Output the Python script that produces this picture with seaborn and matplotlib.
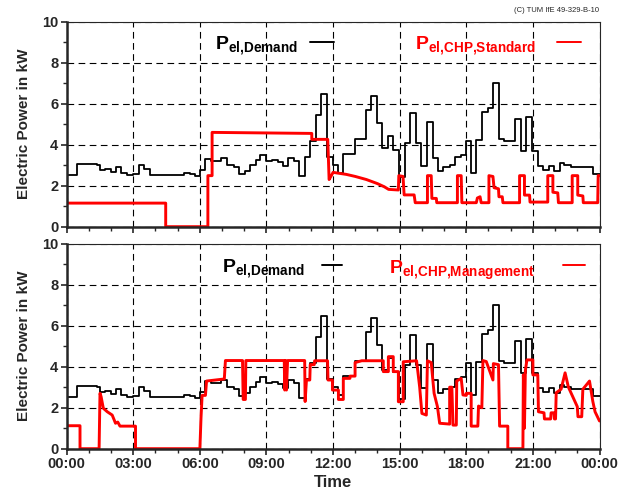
"""Electric power demand vs. CHP output, standard and managed operation."""

import matplotlib
matplotlib.use("Agg")
import matplotlib.pyplot as plt
from matplotlib.ticker import MultipleLocator, FuncFormatter
import pandas as pd
import seaborn as sns

# demand profile (step function, value holds from each start hour)
demand_t = [0, 0.48, 1.38, 1.5, 1.71, 1.98, 2.2, 2.43, 2.7, 3.0,
            3.25, 3.48, 3.75, 5.28, 5.55, 5.76, 6.0, 6.25, 6.48, 6.93,
            7.23, 7.53, 7.75, 8.04, 8.26, 8.52, 8.71, 8.97, 9.24, 9.51,
            9.76, 9.99, 10.26, 10.48, 10.74, 10.97, 11.22, 11.46, 11.73, 12.0,
            12.22, 12.45, 12.97, 13.47, 13.7, 13.97, 14.22, 14.47, 14.7, 14.97,
            15.22, 15.45, 15.72, 15.97, 16.23, 16.5, 16.72, 16.95, 17.25, 17.47,
            17.77, 18.0, 18.22, 18.45, 18.72, 18.97, 19.2, 19.47, 19.72, 20.2,
            20.45, 20.7, 20.97, 21.22, 21.45, 21.72, 21.97, 22.2, 22.42, 22.72,
            23.7, 24.0]
demand_kw = [2.54, 3.06, 3.0, 2.76, 2.83, 2.65, 2.9, 2.63, 2.52, 2.57,
             3.0, 2.8, 2.5, 2.63, 2.57, 2.49, 2.76, 3.3, 3.22, 3.35,
             3.0, 2.93, 2.55, 2.73, 3.0, 3.24, 3.51, 3.2, 3.25, 3.17,
             2.98, 3.33, 3.19, 2.47, 3.38, 4.2, 5.46, 6.47, 3.38, 3.0,
             2.6, 3.54, 4.3, 5.7, 6.37, 5.07, 3.82, 4.44, 3.74, 2.44,
             4.07, 5.53, 4.07, 2.96, 5.12, 3.33, 2.73, 2.9, 3.0, 3.38,
             3.5, 4.2, 2.6, 4.23, 5.6, 5.8, 7.0, 4.26, 4.2, 5.24,
             3.7, 5.37, 3.7, 2.96, 2.76, 2.96, 2.73, 3.09, 3.0, 2.93,
             2.57, 2.57]

# CHP output, standard operation
standard_t = [0, 4.46, 4.46, 6.36, 6.36, 6.55, 6.55, 11.04, 11.04, 11.76,
              11.82, 11.9, 12.0, 12.3, 12.6, 13.0, 13.5, 14.0, 14.3, 14.5,
              14.94, 14.96, 15.15, 15.2, 15.65, 15.7, 16.25, 16.25, 16.42, 16.45,
              16.65, 16.67, 17.6, 17.6, 17.77, 17.8, 18.45, 18.5, 18.62, 18.67,
              19.02, 19.02, 19.2, 19.25, 19.45, 19.47, 19.62, 19.65, 20.4, 20.4,
              20.62, 20.62, 20.85, 20.87, 21.67, 21.67, 21.9, 21.9, 22.12, 22.15,
              22.77, 22.77, 23.02, 23.02, 23.25, 23.27, 23.92, 23.94, 24.0]
standard_kw = [1.15, 1.15, 0, 0, 2.49, 2.49, 4.6, 4.55, 4.26, 4.26,
               2.3, 2.45, 2.65, 2.6, 2.55, 2.45, 2.3, 2.1, 1.95, 1.82,
               1.79, 2.49, 2.45, 1.55, 1.55, 1.17, 1.17, 2.49, 2.49, 1.38,
               1.38, 1.17, 1.17, 2.49, 2.49, 1.17, 1.17, 1.4, 1.46, 1.17,
               1.17, 2.49, 2.45, 1.9, 1.85, 1.46, 1.46, 1.17, 1.17, 2.49,
               2.49, 1.54, 1.54, 1.2, 1.2, 2.49, 2.49, 1.68, 1.65, 1.17,
               1.17, 2.49, 2.49, 1.54, 1.5, 1.17, 1.17, 2.49, 2.49]

# CHP output, with energy management
managed_t = [0, 0.6, 0.6, 1.46, 1.5, 1.55, 1.65, 1.83, 2.05, 2.2,
             2.3, 2.4, 3.1, 3.1, 6.0, 6.05, 6.1, 6.25, 6.3, 7.1,
             7.15, 7.92, 7.95, 8.05, 8.07, 9.8, 9.82, 9.86, 9.9, 9.95,
             10.72, 10.74, 10.8, 10.95, 10.97, 11.15, 11.17, 11.75, 11.77, 11.97,
             11.97, 12.24, 12.24, 12.46, 12.46, 12.76, 12.76, 12.99, 12.99, 13.29,
             14.26, 14.26, 14.49, 14.49, 14.71, 14.71, 14.94, 14.94, 15.16, 15.16,
             15.76, 15.9, 16.0, 16.2, 16.25, 16.42, 16.55, 16.7, 16.8, 17.25,
             17.25, 17.35, 17.4, 17.55, 17.57, 17.77, 17.85, 18.0, 18.0, 18.22,
             18.22, 18.52, 18.55, 18.7, 18.75, 18.9, 19.2, 19.22, 19.45, 19.5,
             19.87, 19.87, 20.55, 20.57, 20.62, 20.66, 20.73, 21.0, 21.0, 21.22,
             21.25, 21.5, 21.52, 21.8, 21.82, 21.95, 21.97, 22.02, 22.05, 22.27,
             22.45, 22.6, 23.0, 23.03, 23.2, 23.25, 23.55, 23.7, 23.8, 24.0]
managed_kw = [1.12, 1.12, 0, 0, 2.7, 2.54, 1.97, 1.8, 1.64, 1.24,
              1.3, 1.1, 1.1, 0, 0, 1.5, 2.6, 2.6, 3.3, 3.4,
              4.3, 4.3, 2.4, 2.4, 4.3, 4.3, 2.86, 4.3, 2.86, 4.3,
              4.3, 2.3, 3.35, 3.35, 4.1, 4.1, 4.29, 4.29, 3.35, 3.35,
              2.86, 2.86, 2.4, 2.4, 3.43, 3.43, 3.54, 3.54, 4.2, 4.29,
              4.29, 3.76, 3.76, 4.49, 4.49, 3.76, 3.76, 2.29, 2.29, 4.24,
              4.29, 3.0, 1.72, 1.64, 4.29, 4.2, 2.7, 2.05, 1.24, 1.2,
              3.0, 3.0, 1.15, 1.15, 3.3, 3.43, 2.62, 2.6, 2.7, 2.7,
              1.1, 1.1, 2.08, 2.0, 4.3, 4.25, 3.35, 4.15, 4.1, 1.1,
              1.1, 0, 0, 3.6, 1.0, 3.8, 4.33, 4.33, 3.6, 3.6,
              1.8, 1.75, 1.45, 1.45, 1.75, 1.75, 1.45, 1.45, 2.73, 2.9,
              3.7, 3.0, 2.05, 1.56, 1.56, 2.9, 3.3, 2.3, 1.8, 1.35]

LABEL_FONT = "Liberation Sans"


def style_axis(ax, show_xlabels):
    ax.set_xlim(0, 24)
    ax.set_ylim(0, 10)
    ax.xaxis.set_major_locator(MultipleLocator(3))
    ax.xaxis.set_minor_locator(MultipleLocator(1))
    ax.yaxis.set_major_locator(MultipleLocator(2))
    ax.yaxis.set_minor_locator(MultipleLocator(1))
    ax.xaxis.set_major_formatter(FuncFormatter(lambda v, p: f"{int(v) % 24:02d}:00"))
    ax.tick_params(which="major", direction="out", length=4, width=1.2,
                   top=False, right=False, labelsize=10.5, pad=2)
    ax.tick_params(which="minor", direction="out", length=3, width=1,
                   top=False, right=False)
    for lab in ax.get_xticklabels() + ax.get_yticklabels():
        lab.set_fontweight("bold")
        lab.set_family(LABEL_FONT)
    if not show_xlabels:
        ax.tick_params(labelbottom=False)
    ax.grid(True, which="major", color="black", linestyle=(0, (6, 4)), linewidth=0.8)
    ax.set_axisbelow(True)
    ax.spines["left"].set_linewidth(1.8)
    ax.spines["bottom"].set_linewidth(1.8)
    ax.spines["top"].set_linewidth(0.8)
    ax.spines["right"].set_linewidth(0.8)
    ax.set_ylabel("Electric Power in kW", fontsize=11, fontweight="bold",
                  family=LABEL_FONT, labelpad=8)
    ax.set_xlabel("")


def legend_entry(ax, x_text, x_line, y, label, color):
    ax.text(x_text, y, label, transform=ax.transAxes, color=color,
            fontsize=14, ha="left", va="baseline")
    ax.plot(x_line, [y + 0.04, y + 0.04], transform=ax.transAxes,
            color=color, linewidth=1.4, clip_on=False)


def main():
    sns.set_style("ticks")
    plt.rcParams["font.family"] = [LABEL_FONT, "DejaVu Sans"]
    plt.rcParams["mathtext.fontset"] = "custom"
    plt.rcParams["mathtext.bf"] = "Liberation Sans:bold"
    plt.rcParams["mathtext.rm"] = "Liberation Sans"

    demand = pd.DataFrame({"hour": demand_t, "kw": demand_kw})
    standard = pd.DataFrame({"hour": standard_t, "kw": standard_kw})
    managed = pd.DataFrame({"hour": managed_t, "kw": managed_kw})

    fig = plt.figure(figsize=(6.25, 4.93), dpi=100)
    ax_top = fig.add_axes([0.1067, 0.5402, 0.8525, 0.4158])
    ax_bot = fig.add_axes([0.1067, 0.0899, 0.8525, 0.4158])

    for ax, chp in ((ax_top, standard), (ax_bot, managed)):
        sns.lineplot(data=demand, x="hour", y="kw", ax=ax, color="black",
                     linewidth=1.3, drawstyle="steps-post", estimator=None, sort=False)
        sns.lineplot(data=chp, x="hour", y="kw", ax=ax, color="#ff0000",
                     linewidth=2.1, estimator=None, sort=False)

    style_axis(ax_top, False)
    style_axis(ax_bot, True)
    ax_bot.set_xlabel("Time", fontsize=12, fontweight="bold", family=LABEL_FONT, labelpad=3)

    legend_entry(ax_top, 0.278, [0.457, 0.502], 0.86,
                 r"$\mathbf{P}_{\mathbf{el{,}Demand}}$", "black")
    legend_entry(ax_top, 0.654, [0.920, 0.965], 0.86,
                 r"$\mathbf{P}_{\mathbf{el{,}CHP{,}Standard}}$", "#ff0000")
    legend_entry(ax_bot, 0.291, [0.479, 0.517], 0.855,
                 r"$\mathbf{P}_{\mathbf{el{,}Demand}}$", "black")
    legend_entry(ax_bot, 0.604, [0.932, 0.973], 0.855,
                 r"$\mathbf{P}_{\mathbf{el{,}CHP{,}Management}}$", "#ff0000")

    fig.text(0.958, 0.972, "(C) TUM IfE 49-329-B-10", fontsize=5.5, ha="right",
             va="bottom", family=LABEL_FONT)

    fig.savefig("out.png", dpi=100)


if __name__ == "__main__":
    main()
